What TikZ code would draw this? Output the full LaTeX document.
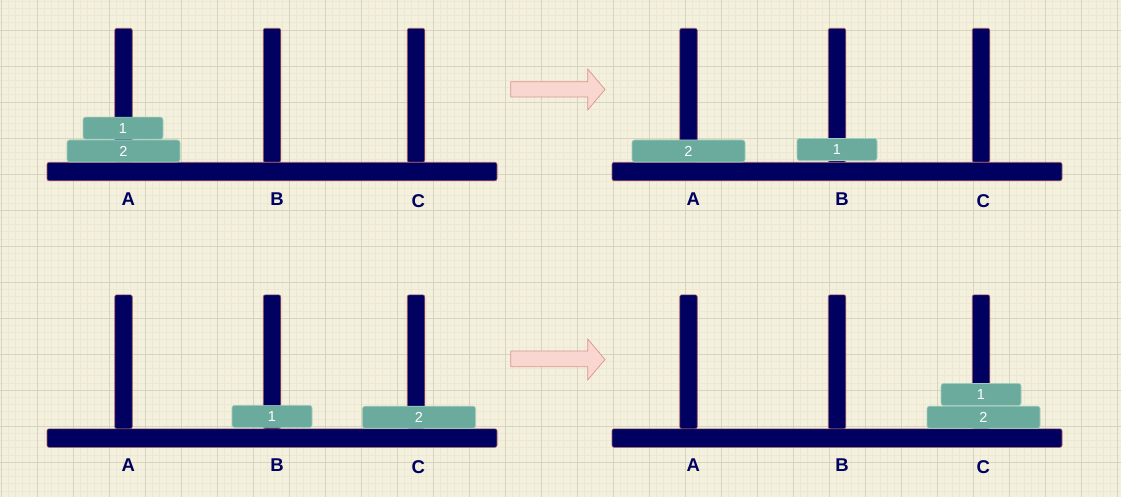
\documentclass[tikz,border=0pt]{standalone}
\usepackage{fontspec}
\setmainfont{Liberation Sans}
\usepackage{tikz}
\usepackage{xcolor}
\usetikzlibrary{positioning}
\definecolor{papercream}{RGB}{244,240,222}
\definecolor{gridminor}{RGB}{236,232,210}
\definecolor{gridmajor}{RGB}{216,212,190}
\definecolor{rodnavy}{RGB}{0,0,96}
\definecolor{rodedge}{RGB}{170,90,100}
\definecolor{diskteal}{RGB}{106,171,157}
\definecolor{diskedge}{RGB}{160,205,190}
\definecolor{arrowpink}{RGB}{250,214,208}
\definecolor{arrowedge}{RGB}{218,150,140}

\begin{document}
\begin{tikzpicture}[x=1pt, y=-1pt,
    rod/.style={draw=rodedge, fill=rodnavy, line width=0.6pt, rounded corners=2pt, inner sep=0pt, minimum width=17.5pt, minimum height=134pt, anchor=north},
    plank/.style={draw=rodedge, fill=rodnavy, line width=0.6pt, rounded corners=2pt, inner sep=0pt, minimum width=450pt, minimum height=18.5pt, anchor=north},
    disk/.style={draw=diskedge, fill=diskteal, line width=0.6pt, rounded corners=2.5pt, inner sep=0pt, minimum height=22pt, text=white, font=\fontsize{14.5}{14.5}\selectfont},
    small/.style={disk, minimum width=80pt},
    large/.style={disk, minimum width=113pt},
    tag/.style={text=rodnavy, inner sep=0pt, font=\fontsize{18.5}{18.5}\selectfont\bfseries},
    movearrow/.style={draw=arrowedge, fill=arrowpink, line width=0.7pt}]
  % paper and grid
  \fill[papercream] (0,0) rectangle (1121,497);
  \useasboundingbox (0,0) rectangle (1121,497);
  \foreach \i in {0,...,155} \draw[gridminor, line width=0.8pt] ({1+\i*7.204},0) -- ({1+\i*7.204},497);
  \foreach \i in {0,...,69} \draw[gridminor, line width=0.8pt] (0,{-6+\i*7.204}) -- (1121,{-6+\i*7.204});
  \foreach \i in {0,...,31} \draw[gridmajor, line width=0.9pt] ({1+\i*36.02},0) -- ({1+\i*36.02},497);
  \foreach \i in {1,...,14} \draw[gridmajor, line width=0.9pt] (0,{-6+\i*36.02}) -- (1121,{-6+\i*36.02});

  % four boards
  \foreach \dx/\dy/\n in {0/0/1, 565/0/2, 0/266.5/3, 565/266.5/4} {
    \node[rod] (rodA\n) at (123.5+\dx, 28+\dy) {};
    \node[rod] (rodB\n) at (272+\dx, 28+\dy) {};
    \node[rod] (rodC\n) at (416+\dx, 28+\dy) {};
    \node[plank] (plank\n) at (272+\dx, 162+\dy) {};
    \node[tag] (tagA\n) at (128.3+\dx, 199+\dy) {A};
    \node[tag] (tagB\n) at (277+\dx, 199+\dy) {B};
    \node[tag] (tagC\n) at (418.3+\dx, 201+\dy) {C};
  }

  % disks
  \node[large] (big1) at (123.5, 151) {2};
  \node[small] (tiny1) at (123, 128.2) {1};
  \node[large] (big2) at (688.5, 151) {2};
  \node[small] (tiny2) at (837, 149.5) {1};
  \node[small] (tiny3) at (272, 416.4) {1};
  \node[large] (big3) at (419, 417.2) {2};
  \node[large] (big4) at (983.5, 417.2) {2};
  \node[small] (tiny4) at (981, 394.5) {1};

  % moves
  \draw[movearrow] (510.7,81.7) -- (587.7,81.7) -- (587.7,69) -- (605,89.5) -- (587.7,110) -- (587.7,97) -- (510.7,97) -- cycle;
  \draw[movearrow] (510.7,351) -- (587.7,351) -- (587.7,339) -- (605,359.5) -- (587.7,380) -- (587.7,366.7) -- (510.7,366.7) -- cycle;
\end{tikzpicture}
\end{document}
